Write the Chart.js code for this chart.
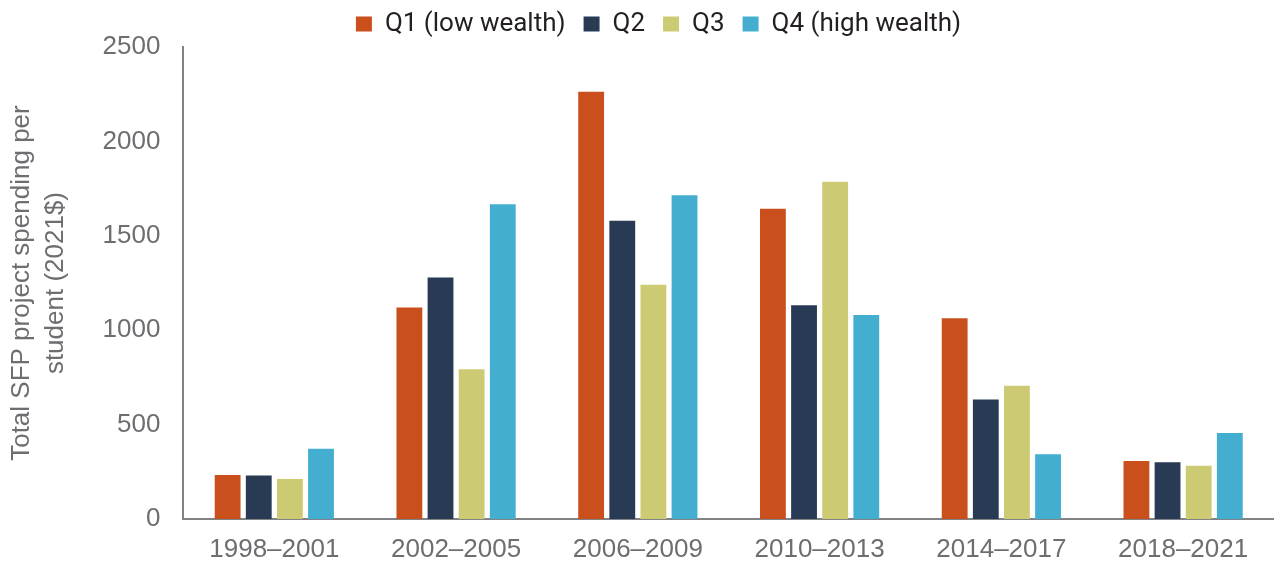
<!DOCTYPE html>
<html lang="en">
<head>
  <meta charset="UTF-8" />
  <title>SFP project spending by wealth quartile</title>
  <script src="https://cdn.jsdelivr.net/npm/chart.js"></script>
  <style>
    html, body { margin: 0; padding: 0; background: #fff; }
    #wrap { width: 1274px; height: 571px; }
  </style>
</head>
<body>
  <div id="wrap"><canvas id="chart"></canvas></div>

  <script>
    // data
    const periods = ['1998–2001', '2002–2005', '2006–2009', '2010–2013', '2014–2017', '2018–2021'];
    const q1 = [234, 1121, 2263, 1643, 1063, 308];
    const q2 = [231, 1279, 1580, 1133, 634, 301];
    const q3 = [213, 793, 1241, 1787, 706, 283];
    const q4 = [373, 1667, 1715, 1081, 344, 456];
    const seriesNames = ['Q1 (low wealth)', 'Q2', 'Q3', 'Q4 (high wealth)'];
    const yTicks = [0, 500, 1000, 1500, 2000, 2500];

    const colors = ['#c94f1d', '#283a54', '#cdca74', '#44aed1'];
    const axisGray = '#808285';
    const textGray = '#6d6e71';
    const sans = '"Liberation Sans", Arial, sans-serif';

    // the legend in the original sits a little right of centre
    const legendShift = {
      id: 'legendShift',
      beforeInit(chart) {
        const draw = chart.legend.draw;
        chart.legend.draw = function () {
          this.left += 19; this.right += 19;
          draw.call(this);
          this.left -= 19; this.right -= 19;
        };
      }
    };

    const ctx = document.getElementById('chart').getContext('2d');
    new Chart(ctx, {
      type: 'bar',
      plugins: [legendShift],
      data: {
        labels: periods,
        datasets: [q1, q2, q3, q4].map((vals, i) => ({
          label: seriesNames[i],
          data: vals,
          backgroundColor: colors[i],
          borderWidth: 0,
          barPercentage: 0.83,
          categoryPercentage: 0.685,
        }))
      },
      options: {
        responsive: true,
        maintainAspectRatio: false,
        animation: false,
        layout: { padding: { top: -7, right: 0, bottom: -10, left: 5 } },
        plugins: {
          tooltip: { enabled: false },
          legend: {
            position: 'top',
            labels: {
              color: '#231f20',
              boxWidth: 16,
              boxHeight: 15,
              padding: 18,
              font: { family: 'Roboto, ' + sans, size: 26 }
            }
          }
        },
        scales: {
          x: {
            grid: { display: false, drawTicks: false },
            border: { color: axisGray, width: 2 },
            ticks: {
              color: textGray,
              padding: 13,
              font: { family: sans, size: 26, lineHeight: 1.38 }
            }
          },
          y: {
            min: 0,
            max: 2500,
            afterBuildTicks: (axis) => { axis.ticks = yTicks.map(v => ({ value: v })); },
            grid: { display: false, drawTicks: false },
            border: { color: axisGray, width: 2 },
            ticks: {
              color: textGray,
              padding: 23,
              callback: (v) => String(v),
              font: { family: sans, size: 26 }
            },
            title: {
              display: true,
              text: ['Total SFP project spending per', 'student (2021$)'],
              color: textGray,
              padding: { top: 0, bottom: 7 },
              font: { family: sans, size: 26, lineHeight: 1.3 }
            }
          }
        }
      }
    });
  </script>
</body>
</html>
